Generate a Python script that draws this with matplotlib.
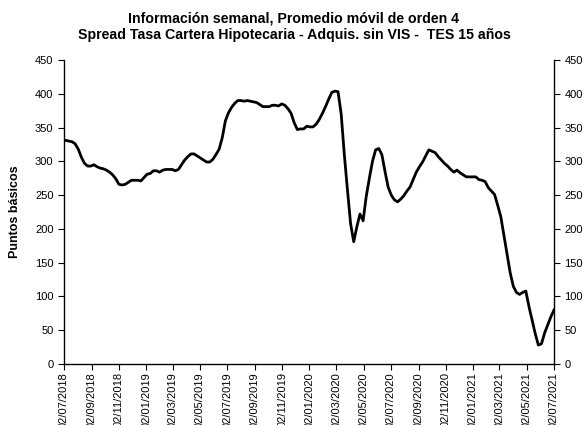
import numpy as np
import pandas as pd
import matplotlib
matplotlib.use("Agg")
import matplotlib.pyplot as plt
import matplotlib.dates as mdates

plt.rcParams['font.family'] = ['Liberation Sans', 'DejaVu Sans']

# weekly moving average of the spread (basis points), one value per week
fechas = pd.date_range("2018-07-06", periods=157, freq="7D")
spread = [
    331, 330, 329, 326, 318, 306, 297, 293, 293, 295,
    292, 290, 289, 287, 284, 280, 274, 266, 265, 266,
    269, 272, 272, 272, 271, 276, 281, 282, 286, 286,
    284, 287, 288, 288, 288, 286, 288, 295, 302, 307,
    311, 311, 308, 305, 302, 299, 299, 303, 310, 318,
    335, 360, 372, 380, 386, 390, 390, 389, 390, 389,
    388, 387, 384, 381, 381, 381, 383, 383, 382, 385,
    383, 378, 371, 357, 347, 348, 348, 352, 351, 351,
    355, 362, 371, 381, 392, 402, 404, 403, 370, 310,
    258, 208, 181, 203, 222, 212, 248, 275, 300, 317,
    319, 310, 285, 262, 250, 243, 240, 244, 249, 256,
    262, 273, 284, 292, 299, 308, 317, 315, 313, 307,
    302, 297, 293, 288, 284, 287, 283, 280, 277, 277,
    277, 277, 273, 272, 270, 261, 256, 251, 235, 218,
    190, 162, 135, 115, 106, 103, 106, 108, 85, 65,
    45, 28, 30, 46, 58, 70, 80,
]
titulo = ("Información semanal, Promedio móvil de orden 4\n"
          "Spread Tasa Cartera Hipotecaria - Adquis. sin VIS -  TES 15 años")

fig = plt.figure(figsize=(5.88, 4.25), dpi=100)
ax = fig.add_axes([0.1088, 0.1435, 0.8334, 0.7153])

ax.plot(fechas, spread, color="black", lw=2)

ax.set_ylim(0, 450)
ax.set_yticks(np.arange(0, 451, 50))
ax.set_xlim(pd.Timestamp("2018-07-02"), pd.Timestamp("2021-07-02"))
# ticks on the 2nd day of every other month
ticks = pd.date_range("2018-07-01", "2021-07-01", freq="2MS") + pd.Timedelta(days=1)
ax.set_xticks(ticks)
ax.xaxis.set_major_formatter(mdates.DateFormatter("%d/%m/%Y"))

ax.tick_params(axis="x", rotation=90, labelsize=8, length=4, pad=2)
ax.tick_params(axis="y", labelsize=8, length=4, right=True, labelright=True)
ax.spines["top"].set_visible(False)
for s in ["left", "right", "bottom"]:
    ax.spines[s].set_linewidth(1)

ax.set_ylabel("Puntos básicos", fontsize=9, fontweight="bold", labelpad=10)
fig.text(0.5, 0.972, titulo, ha="center", va="top", fontsize=10.2,
         fontweight="bold", linespacing=1.2)

fig.savefig("out.png", dpi=100)
